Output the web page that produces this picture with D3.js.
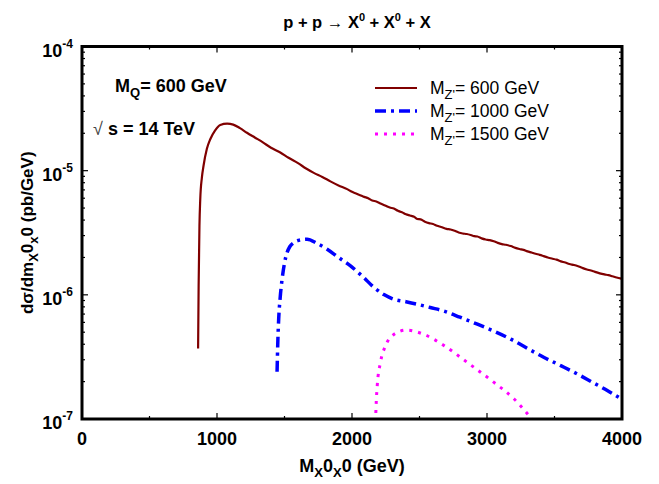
<!DOCTYPE html>
<html>
<head>
<meta charset="utf-8">
<script src="https://cdn.jsdelivr.net/npm/d3@7"></script>
<style>
  body { margin: 0; background: #fff; }
  text { font-family: "Liberation Sans", Arial, sans-serif; }
</style>
</head>
<body>
<div id="chart"></div>
<script>
// curves: [M (GeV), dsigma/dM (pb/GeV)]
var mz600 = [
  [860, 3.7e-7], [864, 1.2e-6], [870, 3.6e-6], [876, 5.9e-6], [888, 8.8e-6], [900, 1.09e-5],
  [925, 1.5e-5], [950, 1.79e-5], [985, 2.1e-5], [1024, 2.33e-5], [1075, 2.39e-5], [1120, 2.35e-5],
  [1170, 2.2e-5], [1222, 2.02e-5], [1280, 1.85e-5], [1340, 1.69e-5], [1400, 1.53e-5], [1469, 1.40e-5],
  [1530, 1.27e-5], [1600, 1.15e-5], [1660, 1.04e-5], [1717, 9.6e-6], [1780, 8.9e-6], [1840, 8.2e-6],
  [1900, 7.6e-6], [1964, 7.1e-6], [2000, 6.75e-6], [2030, 6.55e-6], [2060, 6.35e-6], [2090, 6.15e-6],
  [2120, 6.0e-6], [2150, 5.75e-6], [2180, 5.65e-6], [2211, 5.45e-6], [2245, 5.25e-6], [2280, 5.05e-6],
  [2310, 4.95e-6], [2340, 4.75e-6], [2370, 4.62e-6], [2400, 4.45e-6], [2430, 4.35e-6], [2460, 4.25e-6],
  [2485, 4.08e-6], [2508, 4.05e-6], [2540, 3.88e-6], [2570, 3.78e-6], [2600, 3.72e-6], [2630, 3.6e-6],
  [2660, 3.52e-6], [2700, 3.40e-6], [2730, 3.36e-6], [2760, 3.28e-6], [2790, 3.18e-6], [2820, 3.12e-6],
  [2850, 3.09e-6], [2880, 3.03e-6], [2905, 2.97e-6], [2929, 2.95e-6], [2960, 2.85e-6], [2990, 2.79e-6],
  [3020, 2.76e-6], [3050, 2.70e-6], [3080, 2.62e-6], [3110, 2.56e-6], [3140, 2.53e-6], [3176, 2.47e-6],
  [3210, 2.39e-6], [3240, 2.34e-6], [3270, 2.30e-6], [3300, 2.24e-6], [3330, 2.19e-6], [3360, 2.14e-6],
  [3390, 2.10e-6], [3420, 2.05e-6], [3450, 2.00e-6], [3480, 1.96e-6], [3515, 1.92e-6], [3547, 1.86e-6],
  [3580, 1.82e-6], [3610, 1.77e-6], [3645, 1.74e-6], [3680, 1.69e-6], [3710, 1.64e-6], [3740, 1.60e-6],
  [3770, 1.57e-6], [3800, 1.53e-6], [3835, 1.49e-6], [3870, 1.46e-6], [3900, 1.44e-6], [3930, 1.41e-6],
  [3960, 1.38e-6], [3995, 1.35e-6]
];
var mz1000 = [
  [1445, 2.4e-7], [1450, 4.0e-7], [1457, 6.4e-7], [1468, 9.5e-7], [1482, 1.33e-6], [1500, 1.8e-6],
  [1519, 2.19e-6], [1540, 2.45e-6], [1568, 2.63e-6], [1620, 2.77e-6], [1667, 2.80e-6], [1740, 2.6e-6],
  [1816, 2.33e-6], [1900, 2.0e-6], [1989, 1.71e-6], [2080, 1.4e-6], [2162, 1.15e-6], [2240, 1.0e-6],
  [2310, 9.2e-7], [2400, 8.8e-7], [2484, 8.4e-7], [2580, 7.9e-7], [2682, 7.4e-7], [2800, 6.6e-7],
  [2929, 5.8e-7], [3050, 5.1e-7], [3176, 4.4e-7], [3300, 3.7e-7], [3423, 3.13e-7], [3550, 2.68e-7],
  [3671, 2.30e-7], [3790, 1.95e-7], [3894, 1.69e-7], [3995, 1.45e-7]
];
var mz1500 = [
  [2172, 8e-8], [2180, 1.4e-7], [2187, 1.86e-7], [2211, 2.86e-7], [2249, 3.9e-7], [2310, 4.8e-7],
  [2402, 5.2e-7], [2533, 4.8e-7], [2682, 3.9e-7], [2855, 2.85e-7], [3052, 1.97e-7], [3201, 1.45e-7],
  [3313, 1.06e-7], [3350, 9.5e-8]
];
var seriesNames = ["600 GeV", "1000 GeV", "1500 GeV"];
var xTicks = [0, 1000, 2000, 3000, 4000];
var yExponents = [-4, -5, -6, -7];

var width = 659, height = 484;
var margin = {top: 46.5, right: 37, bottom: 65, left: 82};

var svg = d3.select("#chart").append("svg")
    .attr("width", width)
    .attr("height", height);

var x = d3.scaleLinear().domain([0, 4000]).range([margin.left, width - margin.right]);
var y = d3.scaleLog().domain([1e-7, 1e-4]).range([height - margin.bottom, margin.top]);

svg.append("clipPath").attr("id", "clip")
  .append("rect")
    .attr("x", margin.left).attr("y", margin.top)
    .attr("width", x(4000) - x(0)).attr("height", y(1e-7) - y(1e-4));

var series = [
  {name: seriesNames[0], data: mz600, color: "#800000", width: 2.2, dash: null},
  {name: seriesNames[1], data: mz1000, color: "#0000ff", width: 3.5, dash: "11,5,3,5"},
  {name: seriesNames[2], data: mz1500, color: "#ff00ff", width: 3, dash: "3,6"}
];

var line = d3.line()
    .x(function(d) { return x(d[0]); })
    .y(function(d) { return y(d[1]); })
    .curve(d3.curveMonotoneX);

svg.append("g").attr("clip-path", "url(#clip)")
  .selectAll("path")
  .data(series)
  .join("path")
    .attr("fill", "none")
    .attr("stroke", function(d) { return d.color; })
    .attr("stroke-width", function(d) { return d.width; })
    .attr("stroke-dasharray", function(d) { return d.dash; })
    .attr("d", function(d) { return line(d.data); });

// ticks on all four sides, pointing inward
var minorX = d3.range(500, 4000, 1000);
var minorY = [];
[-7, -6, -5].forEach(function(e) {
  for (var k = 2; k <= 9; k++) minorY.push(k * Math.pow(10, e));
});

var tickG = svg.append("g").attr("stroke", "#000").attr("stroke-width", 1.2);
function xTick(v, len) {
  tickG.append("line").attr("x1", x(v)).attr("x2", x(v)).attr("y1", y(1e-7)).attr("y2", y(1e-7) - len);
  tickG.append("line").attr("x1", x(v)).attr("x2", x(v)).attr("y1", y(1e-4)).attr("y2", y(1e-4) + len);
}
function yTick(v, len) {
  tickG.append("line").attr("x1", x(0)).attr("x2", x(0) + len).attr("y1", y(v)).attr("y2", y(v));
  tickG.append("line").attr("x1", x(4000)).attr("x2", x(4000) - len).attr("y1", y(v)).attr("y2", y(v));
}
xTicks.forEach(function(v) { xTick(v, 6); });
minorX.forEach(function(v) { xTick(v, 3); });
yExponents.forEach(function(e) { yTick(Math.pow(10, e), 6); });
minorY.forEach(function(v) { yTick(v, 3); });

// frame
svg.append("rect")
    .attr("x", x(0)).attr("y", y(1e-4))
    .attr("width", x(4000) - x(0)).attr("height", y(1e-7) - y(1e-4))
    .attr("fill", "none").attr("stroke", "#000").attr("stroke-width", 3);

// tick labels
svg.append("g").selectAll("text")
  .data(xTicks)
  .join("text")
    .attr("x", function(d) { return x(d); })
    .attr("y", y(1e-7) + 26)
    .attr("text-anchor", "middle")
    .attr("font-size", 18).attr("font-weight", "bold")
    .text(function(d) { return d; });

var yl = svg.append("g").selectAll("text")
  .data(yExponents)
  .join("text")
    .attr("x", 73)
    .attr("y", function(d) { return y(Math.pow(10, d)) + 10; })
    .attr("text-anchor", "end")
    .attr("font-size", 18).attr("font-weight", "bold");
yl.append("tspan").text("10");
yl.append("tspan").attr("dy", -9).attr("font-size", 12).text(function(d) { return d; });

// axis titles
var xt = svg.append("text")
    .attr("x", (x(0) + x(4000)) / 2).attr("y", 472)
    .attr("text-anchor", "middle")
    .attr("font-size", 18).attr("font-weight", "bold");
xt.append("tspan").text("M");
xt.append("tspan").attr("dy", 5).attr("font-size", 13).text("X");
xt.append("tspan").attr("dy", -5).text("0");
xt.append("tspan").attr("dy", 5).attr("font-size", 13).text("X");
xt.append("tspan").attr("dy", -5).text("0 (GeV)");

var yt = svg.append("text")
    .attr("transform", "translate(33," + ((y(1e-4) + y(1e-7)) / 2) + ") rotate(-90)")
    .attr("text-anchor", "middle")
    .attr("font-size", 17).attr("font-weight", "bold");
yt.append("tspan").text("dσ/dm");
yt.append("tspan").attr("dy", 5).attr("font-size", 13).text("X");
yt.append("tspan").attr("dy", -5).text("0");
yt.append("tspan").attr("dy", 5).attr("font-size", 13).text("x");
yt.append("tspan").attr("dy", -5).text("0 (pb/GeV)");

// title
var tt = svg.append("text")
    .attr("x", 357).attr("y", 28)
    .attr("text-anchor", "middle")
    .attr("font-size", 16.5).attr("font-weight", "bold");
tt.append("tspan").text("p + p ");
tt.append("tspan").attr("font-weight", "normal").text("→ ");
tt.append("tspan").text(" X");
tt.append("tspan").attr("dy", -7).attr("font-size", 11).text("0");
tt.append("tspan").attr("dy", 7).text(" + X");
tt.append("tspan").attr("dy", -7).attr("font-size", 11).text("0");
tt.append("tspan").attr("dy", 7).text(" + X");

// annotations
var mq = svg.append("text").attr("x", 115).attr("y", 92)
    .attr("font-size", 18).attr("font-weight", "bold");
mq.append("tspan").text("M");
mq.append("tspan").attr("dy", 5).attr("font-size", 13).text("Q");
mq.append("tspan").attr("dy", -5).text("= 600 GeV");

var rs = svg.append("text").attr("x", 93).attr("y", 135)
    .attr("font-size", 18).attr("font-weight", "bold");
rs.append("tspan").attr("font-weight", "normal").attr("fill", "#444").text("√ ");
rs.append("tspan").text("s = 14 TeV");

// legend
var legendY = [88, 111, 134];
var lg = svg.append("g").selectAll("g")
  .data(series)
  .join("g")
    .attr("transform", function(d, i) { return "translate(375," + legendY[i] + ")"; });
lg.append("line")
    .attr("x1", 0).attr("x2", 42)
    .attr("stroke", function(d) { return d.color; })
    .attr("stroke-width", function(d) { return d.width; })
    .attr("stroke-dasharray", function(d) { return d.dash; });
var lt = lg.append("text").attr("x", 55).attr("y", 6).attr("font-size", 17.5);
lt.append("tspan").text("M");
lt.append("tspan").attr("dy", 5).attr("font-size", 13).text("Z'");
lt.append("tspan").attr("dy", -5).text(function(d) { return "= " + d.name; });
</script>
</body>
</html>
